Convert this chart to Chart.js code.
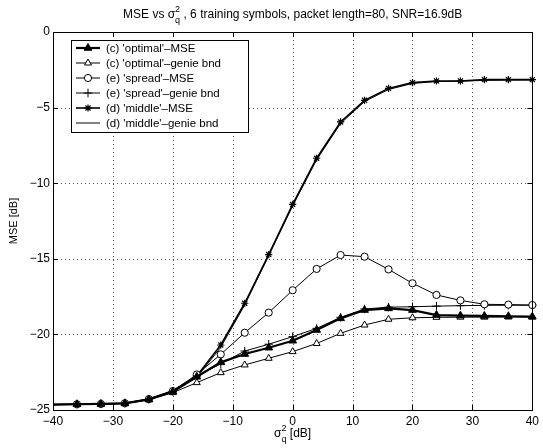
<!DOCTYPE html>
<html>
<head>
<meta charset="utf-8">
<script src="https://cdn.jsdelivr.net/npm/chart.js@4.4.0/dist/chart.umd.min.js"></script>
<style>
html,body{margin:0;padding:0;background:#fff;}
#wrap{width:543px;height:448px;position:relative;}
</style>
</head>
<body>
<div id="wrap"><canvas id="c" width="543" height="448"></canvas></div>
<script>
// ---- data ----
const sigmaQ = [-40,-36,-32,-28,-24,-20,-16,-12,-8,-4,0,4,8,12,16,20,24,28,32,36,40];
const optimalMSE   = [-24.64,-24.62,-24.60,-24.56,-24.30,-23.79,-22.80,-21.85,-21.30,-20.88,-20.42,-19.71,-18.94,-18.39,-18.28,-18.39,-18.72,-18.76,-18.78,-18.80,-18.83];
const optimalGenie = [-24.64,-24.62,-24.60,-24.57,-24.32,-23.85,-23.19,-22.53,-22.02,-21.58,-21.14,-20.60,-19.93,-19.38,-19.00,-18.90,-18.87,-18.86,-18.86,-18.85,-18.85];
const spreadMSE    = [-24.64,-24.62,-24.60,-24.55,-24.28,-23.75,-22.65,-21.32,-19.89,-18.56,-17.08,-15.67,-14.75,-14.86,-15.70,-16.62,-17.39,-17.75,-18.01,-18.03,-18.06];
const spreadGenie  = [-24.64,-24.62,-24.60,-24.56,-24.30,-23.78,-22.75,-21.95,-21.10,-20.65,-20.15,-19.60,-18.87,-18.32,-18.20,-18.17,-18.13,-18.10,-18.08,-18.07,-18.07];
const middleMSE    = [-24.64,-24.62,-24.60,-24.55,-24.28,-23.72,-22.75,-20.70,-17.94,-14.72,-11.40,-8.35,-5.95,-4.52,-3.73,-3.35,-3.24,-3.24,-3.15,-3.15,-3.15];
const middleGenie  = [-24.64,-24.62,-24.60,-24.56,-24.30,-23.76,-22.85,-20.85,-18.05,-14.80,-11.50,-8.45,-6.05,-4.60,-3.80,-3.40,-3.28,-3.25,-3.20,-3.18,-3.17];
const seriesLabels = ["(c) 'optimal'\u2013MSE","(c) 'optimal'\u2013genie bnd","(e) 'spread'\u2013MSE","(e) 'spread'\u2013genie bnd","(d) 'middle'\u2013MSE","(d) 'middle'\u2013genie bnd"];
const xTicks = [-40,-30,-20,-10,0,10,20,30,40];
const yTicks = [-25,-20,-15,-10,-5,0];
const titleParts = {pre:"MSE vs \u03c3", sup:"2", sub:"q", post:" , 6 training symbols, packet length=80, SNR=16.9dB"};
const xTitleParts = {pre:"\u03c3", sup:"2", sub:"q", post:" [dB]"};
const yTitle = "MSE [dB]";

const FONT = "'Liberation Sans', Arial, Helvetica, sans-serif";
Chart.defaults.font.family = FONT;
Chart.defaults.font.size = 11;
Chart.defaults.color = '#000';

function pts(arr){ return sigmaQ.map((x,i)=>({x:x,y:arr[i]})); }
const hideFirst = (r)=> (ctx)=> ctx.dataIndex===0 ? 0 : r;

const styles = [
  {data:optimalMSE,   bw:2.2, ps:'triangle', r:4.5, fill:'#000', pbw:1},
  {data:optimalGenie, bw:1,   ps:'triangle', r:4,   fill:'#fff', pbw:1},
  {data:spreadMSE,    bw:1,   ps:'circle',   r:3.6, fill:'#fff', pbw:1},
  {data:spreadGenie,  bw:1,   ps:'cross',    r:4.2, fill:'#000', pbw:1},
  {data:middleMSE,    bw:1.6, ps:'star',     r:3.6, fill:'#000', pbw:1.2},
  {data:middleGenie,  bw:1,   ps:false,      r:0,   fill:'#000', pbw:1}
];

const datasets = styles.map((s,i)=>({
  label: seriesLabels[i],
  data: pts(s.data),
  borderColor:'#000',
  borderWidth:s.bw,
  pointStyle:s.ps,
  pointRadius: hideFirst(s.r),
  pointBackgroundColor:s.fill,
  pointBorderColor:'#000',
  pointBorderWidth:s.pbw,
  tension:0,
  fill:false,
  clip:false
}));

function drawRich(ctx, parts, cx, baseline, size, subSize){
  ctx.save();
  ctx.fillStyle='#000';
  ctx.textBaseline='alphabetic';
  ctx.textAlign='left';
  ctx.font = size+'px '+FONT;
  const w1 = ctx.measureText(parts.pre).width;
  const w3 = ctx.measureText(parts.post).width;
  ctx.font = subSize+'px '+FONT;
  const w2 = Math.max(ctx.measureText(parts.sup).width, ctx.measureText(parts.sub).width);
  const total = w1+w2+w3;
  let x = cx - total/2;
  ctx.font = size+'px '+FONT;
  ctx.fillText(parts.pre, x, baseline);
  x += w1;
  ctx.font = subSize+'px '+FONT;
  ctx.fillText(parts.sup, x, baseline - size*0.5);
  ctx.fillText(parts.sub, x, baseline + size*0.45);
  x += w2;
  ctx.font = size+'px '+FONT;
  ctx.fillText(parts.post, x, baseline);
  ctx.restore();
}

const dottedGrid = {
  id:'dottedGrid',
  beforeDatasetsDraw(chart){
    const ctx = chart.ctx, a = chart.chartArea;
    const xs = chart.scales.x, ys = chart.scales.y;
    ctx.save();
    ctx.strokeStyle='#555'; ctx.lineWidth=1; ctx.setLineDash([1,3]);
    ctx.beginPath();
    xTicks.forEach(v=>{
      if(v===xs.min||v===xs.max) return;
      const px = Math.round(xs.getPixelForValue(v))+0.5;
      ctx.moveTo(px,a.top); ctx.lineTo(px,a.bottom);
    });
    yTicks.forEach(v=>{
      if(v===ys.min||v===ys.max) return;
      const py = Math.round(ys.getPixelForValue(v))+0.5;
      ctx.moveTo(a.left,py); ctx.lineTo(a.right,py);
    });
    ctx.stroke();
    ctx.restore();
  }
};

const frame = {
  id:'frame',
  afterDraw(chart){
    const ctx = chart.ctx, a = chart.chartArea;
    const xs = chart.scales.x, ys = chart.scales.y;
    ctx.save();
    ctx.strokeStyle='#000'; ctx.lineWidth=1;
    ctx.strokeRect(Math.round(a.left)+0.5, Math.round(a.top)+0.5, Math.round(a.right-a.left), Math.round(a.bottom-a.top));
    const tl = 5;
    ctx.beginPath();
    xTicks.forEach(v=>{
      const px = Math.round(xs.getPixelForValue(v))+0.5;
      ctx.moveTo(px,a.bottom); ctx.lineTo(px,a.bottom-tl);
      ctx.moveTo(px,a.top); ctx.lineTo(px,a.top+tl);
    });
    yTicks.forEach(v=>{
      const py = Math.round(ys.getPixelForValue(v))+0.5;
      ctx.moveTo(a.left,py); ctx.lineTo(a.left+tl,py);
      ctx.moveTo(a.right,py); ctx.lineTo(a.right-tl,py);
    });
    ctx.stroke();
    ctx.restore();

    // title & axis titles
    drawRich(ctx, titleParts, (a.left+a.right)/2, 18, 12, 9);
    drawRich(ctx, xTitleParts, (a.left+a.right)/2, 437, 12, 9);
    ctx.save();
    ctx.translate(14,(a.top+a.bottom)/2);
    ctx.rotate(-Math.PI/2);
    ctx.font='11px '+FONT; ctx.fillStyle='#000';
    ctx.textAlign='center'; ctx.textBaseline='middle';
    ctx.fillText(yTitle,0,0);
    ctx.restore();

    // legend
    const lx=71, ly=40, lw=177, rowH=15, lh=rowH*6+2;
    ctx.save();
    ctx.fillStyle='#fff';
    ctx.fillRect(lx,ly,lw,lh);
    ctx.strokeStyle='#000'; ctx.lineWidth=1;
    ctx.strokeRect(lx+0.5,ly+0.5,lw,lh);
    ctx.font='11.5px '+FONT; ctx.textBaseline='middle'; ctx.textAlign='left';
    datasets.forEach((d,i)=>{
      const y = ly+8+i*rowH;
      ctx.strokeStyle='#000'; ctx.lineWidth=d.borderWidth;
      ctx.beginPath(); ctx.moveTo(76,y); ctx.lineTo(100,y); ctx.stroke();
      if(d.pointStyle){
        ctx.fillStyle=d.pointBackgroundColor; ctx.strokeStyle='#000'; ctx.lineWidth=d.pointBorderWidth;
        Chart.helpers.drawPoint(ctx,{pointStyle:d.pointStyle, radius:styles[i].r, borderWidth:d.pointBorderWidth, rotation:0},88,y);
      }
      ctx.fillStyle='#000';
      ctx.fillText(d.label,106,y+0.5);
    });
    ctx.restore();
  }
};

new Chart(document.getElementById('c'),{
  type:'line',
  data:{datasets:datasets},
  options:{
    responsive:false,
    animation:false,
    devicePixelRatio:1,
    layout:{padding:{left:0,right:10,top:32,bottom:0}, autoPadding:false},
    plugins:{legend:{display:false}, title:{display:false}, tooltip:{enabled:false}},
    scales:{
      x:{type:'linear', min:-40, max:40,
         afterBuildTicks:(s)=>{ s.ticks = xTicks.map(v=>({value:v})); },
         ticks:{padding:4, callback:(v)=> (v<0?'\u2212'+Math.abs(v):''+v), maxRotation:0, font:{size:12}},
         grid:{display:false, drawTicks:false},
         border:{display:false},
         afterFit:(s)=>{ s.height=38; }
      },
      y:{type:'linear', min:-25, max:0,
         afterBuildTicks:(s)=>{ s.ticks = yTicks.map(v=>({value:v})); },
         ticks:{padding:3, callback:(v)=> (v<0?'\u2212'+Math.abs(v):''+v), font:{size:12}},
         grid:{display:false, drawTicks:false},
         border:{display:false},
         afterFit:(s)=>{ s.width=53; }
      }
    }
  },
  plugins:[dottedGrid, frame]
});
</script>
</body>
</html>
